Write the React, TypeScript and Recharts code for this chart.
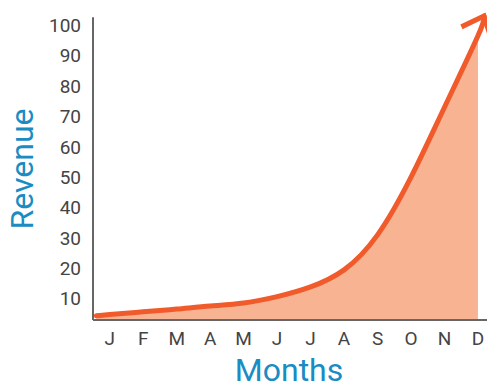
import React from 'react';
import { ComposedChart, Area, Line, XAxis, YAxis, ReferenceLine } from 'recharts';

const months = ['J', 'F', 'M', 'A', 'M', 'J', 'J', 'A', 'S', 'O', 'N', 'D'];
const monthPos = [1, 2, 3, 4, 5, 6, 7, 8, 9, 10, 11, 12];
const revenue = [4.8, 5.7, 6.6, 7.6, 8.6, 10.7, 13.9, 19.5, 31, 50, 73, 96.5];
const startPoint = { x: 0.6, revenue: 4.4 };
const arrowTip = { x: 12.18, revenue: 103 };
const yTicks = [10, 20, 30, 40, 50, 60, 70, 80, 90, 100];
const xDomain = [0.5, 12.27];
const yDomain = [3, 105];
const yAxisTop = 102.6;

const areaData = [startPoint, ...monthPos.map((x, i) => ({ x, revenue: revenue[i] }))];
const lineData = [...areaData, arrowTip];

const LINE = '#F15A2B';
const FILL = '#F8B492';
const BLUE = '#1A8CC3';
const AXIS = '#666666';
const FONT = 'Roboto, sans-serif';

const makeArrowDot = () => {
  const pts: Record<number, { x: number; y: number }> = {};
  return (props: any) => {
    const { cx, cy, index } = props;
    pts[index] = { x: cx, y: cy };
    if (index !== lineData.length - 1) return <g key={`d${index}`} />;
    const ref = pts[index - 2] ?? pts[index - 1];
    const ang = Math.atan2(ref.y - cy, ref.x - cx);
    const spread = (41 * Math.PI) / 180;
    const len = 25;
    const a1x = cx + len * Math.cos(ang + spread);
    const a1y = cy + len * Math.sin(ang + spread);
    const a2x = cx + len * Math.cos(ang - spread);
    const a2y = cy + len * Math.sin(ang - spread);
    return (
      <path
        key="arrow"
        d={`M${a1x},${a1y}L${cx},${cy}L${a2x},${a2y}`}
        fill="none"
        stroke={LINE}
        strokeWidth={5}
        strokeLinejoin="miter"
      />
    );
  };
};

const YLabel = (props: any) => {
  const vb = props.viewBox;
  const y = vb.y + vb.height / 2 + 4;
  const x = 33;
  return (
    <text
      x={x}
      y={y}
      transform={`rotate(-90 ${x} ${y})`}
      textAnchor="middle"
      fill={BLUE}
      fontSize={32}
      fontFamily={FONT}
    >
      Revenue
    </text>
  );
};

const XLabel = (props: any) => {
  const vb = props.viewBox;
  return (
    <text
      x={vb.x + vb.width / 2 - 1}
      y={vb.y + 61}
      textAnchor="middle"
      fill={BLUE}
      fontSize={32}
      fontFamily={FONT}
    >
      Months
    </text>
  );
};

export default function App() {
  const arrowDot = makeArrowDot();
  return (
    <div style={{ position: 'absolute', left: 0, top: 0, width: 492, height: 388, overflow: 'hidden', background: '#fff' }}>
      <ComposedChart width={492} height={388} margin={{ top: 10, right: 5, bottom: 0, left: 0 }}>
        <XAxis
          type="number"
          dataKey="x"
          domain={xDomain}
          ticks={monthPos}
          tickFormatter={(v: number) => months[v - 1]}
          height={68}
          axisLine={{ stroke: AXIS, strokeWidth: 2 }}
          tickLine={false}
          tickSize={0}
          tickMargin={12}
          tick={{ fill: '#444', fontSize: 19, fontFamily: FONT }}
          allowDataOverflow
          label={<XLabel />}
        />
        <YAxis
          type="number"
          domain={yDomain}
          ticks={yTicks}
          width={93}
          axisLine={false}
          tickLine={false}
          tickSize={0}
          tickMargin={12}
          tick={{ fill: '#444', fontSize: 19, fontFamily: FONT }}
          label={<YLabel />}
        />
        <Area
          data={areaData}
          dataKey="revenue"
          type="natural"
          stroke="none"
          fill={FILL}
          fillOpacity={1}
          baseValue={yDomain[0]}
          isAnimationActive={false}
        />
        <ReferenceLine
          segment={[
            { x: xDomain[0], y: yDomain[0] },
            { x: xDomain[0], y: yAxisTop },
          ]}
          stroke={AXIS}
          strokeWidth={2}
          ifOverflow="visible"
        />
        <Line
          data={lineData}
          dataKey="revenue"
          type="natural"
          stroke={LINE}
          strokeWidth={5}
          strokeLinecap="round"
          dot={arrowDot}
          activeDot={false}
          isAnimationActive={false}
        />
      </ComposedChart>
    </div>
  );
}
